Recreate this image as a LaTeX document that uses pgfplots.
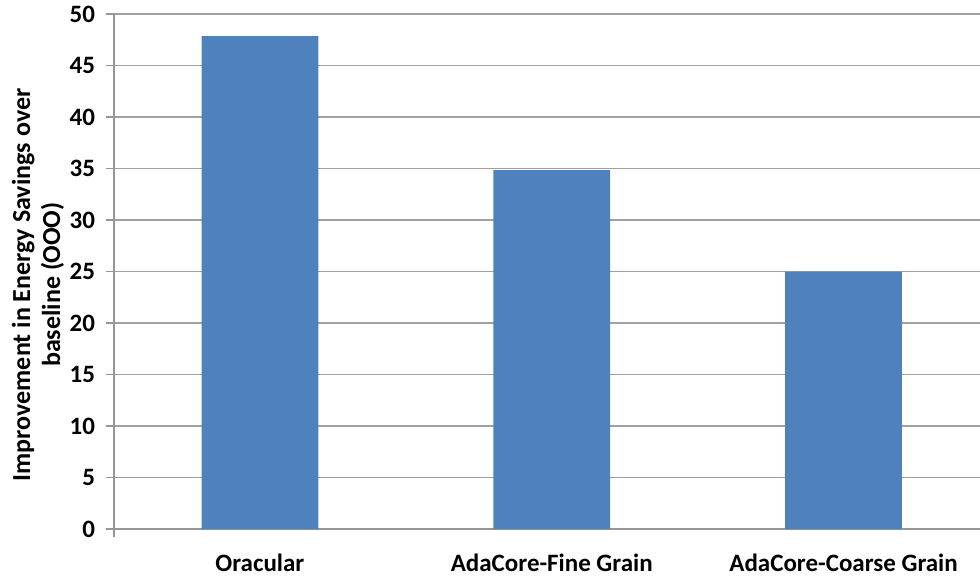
\documentclass[border=0pt]{standalone}
\usepackage{fontspec}
\setmainfont{Carlito}
\usepackage{pgfplots}
\pgfplotsset{compat=1.18}
\definecolor{barblue}{HTML}{4F81BD}
\definecolor{gridgray}{HTML}{A0A0A0}
\definecolor{axgray}{HTML}{969696}
\begin{document}
\begin{tikzpicture}
\begin{axis}[
  scale only axis,
  width=433pt, height=257.5pt,
  ybar, bar width=0.4,
  xmin=-0.5, xmax=2.4675,
  ymin=0, ymax=50,
  ytick={0,5,...,50},
  xtick={0,1,2},
  xticklabels={Oracular, AdaCore-Fine Grain, AdaCore-Coarse Grain},
  extra x ticks={0.5,1.5},
  extra x tick labels={},
  extra x tick style={major tick length=4pt, tick style={draw=axgray, line width=0.6pt}},
  major x tick style={draw=none},
  ytick pos=left, xtick pos=bottom,
  tick align=outside,
  major tick length=4pt,
  tick style={draw=axgray, line width=0.6pt},
  ymajorgrids,
  grid style={draw=gridgray, line width=0.7pt},
  axis x line*=bottom, axis y line*=left,
  axis line style={-, draw=axgray, line width=0.7pt},
  y axis line style={shorten <=-4pt},
  font=\fontsize{12.5}{15}\selectfont\bfseries,
  /pgf/number format/assume math mode=true,
  yticklabel style={xshift=-2pt},
  xticklabel style={yshift=-5pt},
  clip=false,
]
\addplot[fill=barblue, draw=none] coordinates {(0,47.85) (1,34.85) (2,25.0)};
\coordinate (bl) at (rel axis cs:0,0);
\coordinate (tr) at (rel axis cs:1,1);
\node[rotate=90, align=center, font=\fontsize{13}{15}\selectfont\bfseries]
  at ([xshift=-38pt]rel axis cs:0,0.474) {Improvement in Energy Savings over\\baseline (OOO)};
\end{axis}
\pgfresetboundingbox
\path ([xshift=-57pt, yshift=-23pt]bl) rectangle ([yshift=7pt]tr);
\end{tikzpicture}
\end{document}
